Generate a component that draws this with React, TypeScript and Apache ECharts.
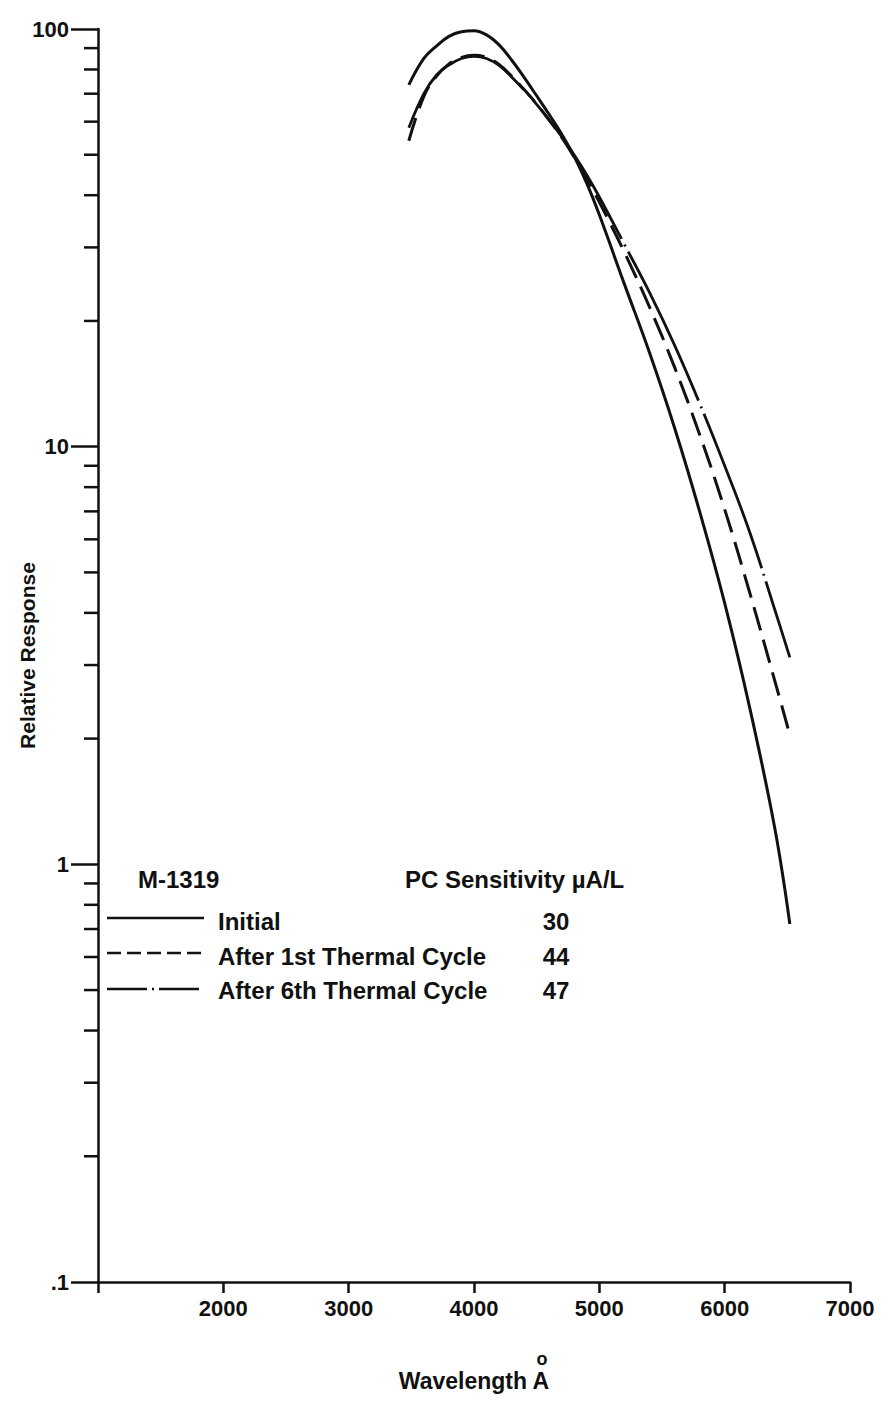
import React, { useEffect, useRef } from "react";
import * as echarts from "echarts";

// Wavelength samples (Å) shared by all three curves
const wavelength = [3480, 3600, 3700, 3800, 3900, 4000, 4100, 4200, 4300, 4400, 4500, 4600, 4700, 4800, 4900, 5000, 5200, 5400, 5600, 5800, 6000, 6200, 6400, 6520];
// Relative response
const initialResponse = [73.5, 85, 91, 96, 98.5, 99, 96.8, 91.6, 84.3, 76.6, 69.2, 62.4, 56.0, 49.5, 42.7, 35.9, 24.5, 16.8, 11.1, 7.0, 4.22, 2.37, 1.22, 0.72];
const firstCycleResponse = [54, 69, 77, 82.5, 85.5, 86.5, 85.5, 82.2, 77.1, 71.6, 66.1, 60.5, 55.0, 49.3, 43.8, 38.5, 29.2, 21.6, 15.5, 10.7, 7.08, 4.47, 2.75, 2.04];
const sixthCycleResponse = [58, 70, 77.5, 82, 85, 86, 85, 81.8, 76.8, 71.4, 66, 60.5, 55.2, 49.9, 44.7, 39.6, 30.5, 23.4, 17.5, 12.7, 9.0, 6.24, 4.07, 3.13];

// Axis ticks
const xTicks = [1000, 2000, 3000, 4000, 5000, 6000, 7000];
const yTickValues = [0.1, 1, 10, 100];
const yTickLabels = [".1", "1", "10", "100"];
const minorTickValues = [0.2, 0.3, 0.4, 0.5, 0.6, 0.7, 0.8, 0.9, 2, 3, 4, 5, 6, 7, 8, 9, 20, 30, 40, 50, 60, 70, 80, 90];

// Legend contents
const deviceName = "M-1319";
const sensitivityHeader = "PC Sensitivity µA/L";
const seriesNames = ["Initial", "After 1st Thermal Cycle", "After 6th Thermal Cycle"];
const sensitivities = ["30", "44", "47"];

const SANS = "'Liberation Sans', Arial, 'DejaVu Sans', sans-serif";
const INK = "#111";

function pairs(ys: number[]) {
  return wavelength.map((x, i) => [x, ys[i]]);
}

export default function App() {
  const ref = useRef<HTMLDivElement>(null);
  useEffect(() => {
    if (!ref.current) return;
    const chart = echarts.init(ref.current, null, { renderer: "svg" });
    const legendRowsY = [921, 956, 990];
    const legendLinesY = [918, 953, 989];
    const dashes: any[] = [null, [14, 6], [40, 5, 2, 5]];
    const legendGraphics: any[] = [
      { type: "text", x: 138, y: 879, style: { text: deviceName, font: `bold 24px ${SANS}`, fill: INK, verticalAlign: "middle" } },
      { type: "text", x: 405, y: 879, style: { text: sensitivityHeader, font: `bold 24px ${SANS}`, fill: INK, verticalAlign: "middle" } },
    ];
    seriesNames.forEach((name, i) => {
      legendGraphics.push({
        type: "line",
        shape: { x1: 107, y1: legendLinesY[i], x2: 204, y2: legendLinesY[i] },
        style: { stroke: INK, lineWidth: 2.5, lineDash: dashes[i] || undefined },
      });
      legendGraphics.push({
        type: "text",
        x: 218,
        y: legendRowsY[i],
        style: { text: name, font: `bold 24px ${SANS}`, fill: INK, verticalAlign: "middle" },
      });
      legendGraphics.push({
        type: "text",
        x: 556,
        y: legendRowsY[i],
        style: { text: sensitivities[i], font: `bold 24px ${SANS}`, fill: INK, align: "center", verticalAlign: "middle" },
      });
    });
    legendGraphics.push({
      type: "text",
      x: 542,
      y: 1359,
      style: { text: "o", font: `bold 18px ${SANS}`, fill: INK, align: "center", verticalAlign: "middle" },
    });

    const option: any = {
      animation: false,
      backgroundColor: "#fff",
      grid: { left: 98, right: 33, top: 29, bottom: 128, containLabel: false, outerBoundsMode: "none" },
      xAxis: {
        type: "value",
        min: 1000,
        max: 7000,
        interval: 1000,
        name: "Wavelength A",
        nameLocation: "middle",
        nameGap: 87,
        nameMoveOverlap: false,
        nameTextStyle: { fontFamily: SANS, fontWeight: "bold", fontSize: 23, color: INK, verticalAlign: "top" },
        axisLine: { onZero: false, lineStyle: { color: INK, width: 2.5 } },
        axisTick: { show: true, length: 11, lineStyle: { color: INK, width: 2.5 }, customValues: xTicks },
        axisLabel: {
          margin: 15,
          fontFamily: SANS,
          fontWeight: "bold",
          fontSize: 22,
          color: INK,
          customValues: xTicks,
          formatter: (v: number) => (v === 1000 ? "" : String(v)),
        },
        splitLine: { show: false },
      },
      yAxis: {
        type: "log",
        logBase: 10,
        min: 0.1,
        max: 100,
        name: "Relative Response",
        nameLocation: "middle",
        nameGap: 60,
        nameMoveOverlap: false,
        nameRotate: 90,
        nameTextStyle: { fontFamily: SANS, fontWeight: "bold", fontSize: 21, color: INK },
        axisLine: { onZero: false, lineStyle: { color: INK, width: 2.5 } },
        axisTick: { show: true, length: 27, lineStyle: { color: INK, width: 2.5 } },
        axisLabel: {
          margin: 29,
          fontFamily: SANS,
          fontWeight: "bold",
          fontSize: 22,
          color: INK,
          formatter: (v: number) => {
            const idx = yTickValues.findIndex((t) => Math.abs(t - v) / t < 1e-6);
            return idx >= 0 ? yTickLabels[idx] : "";
          },
        },
        splitLine: { show: false },
      },
      series: [
        {
          name: seriesNames[0],
          type: "line",
          data: pairs(initialResponse),
          smooth: 0.4,
          showSymbol: false,
          lineStyle: { color: INK, width: 3, type: "solid" },
        },
        {
          name: seriesNames[1],
          type: "line",
          data: pairs(firstCycleResponse),
          smooth: 0.4,
          showSymbol: false,
          lineStyle: { color: INK, width: 3, type: [24, 10] },
        },
        {
          name: seriesNames[2],
          type: "line",
          data: pairs(sixthCycleResponse),
          smooth: 0.4,
          showSymbol: false,
          lineStyle: { color: INK, width: 2.8, type: [165, 6, 2, 6] },
        },
        {
          type: "custom",
          name: "minor ticks",
          silent: true,
          clip: false,
          data: minorTickValues.map((v) => [1000, v]),
          renderItem: (params: any, api: any) => {
            const p = api.coord([api.value(0), api.value(1)]);
            return {
              type: "line",
              shape: { x1: p[0] - 14, y1: p[1], x2: p[0], y2: p[1] },
              style: { stroke: INK, lineWidth: 2.5 },
            };
          },
        },
      ],
      graphic: legendGraphics,
    };
    chart.setOption(option);
    return () => chart.dispose();
  }, []);
  return <div ref={ref} style={{ position: "absolute", left: 0, top: 0, width: 883, height: 1410 }} />;
}
